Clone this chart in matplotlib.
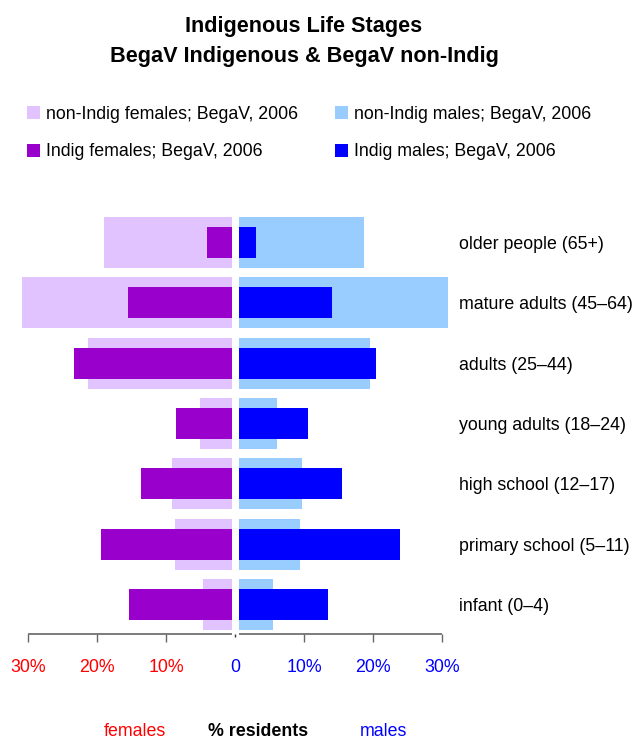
import matplotlib
matplotlib.use("Agg")
import matplotlib.pyplot as plt
import numpy as np

plt.rcParams['font.family'] = ['Liberation Sans', 'DejaVu Sans']

# age groups, top to bottom
etapas = ['older people (65+)', 'mature adults (45–64)', 'adults (25–44)',
          'young adults (18–24)', 'high school (12–17)', 'primary school (5–11)',
          'infant (0–4)']

# % residents
nonindig_mujeres = [19.0, 30.9, 21.3, 5.1, 9.2, 8.7, 4.7]
indig_mujeres = [4.1, 15.55, 23.4, 8.6, 13.7, 19.5, 15.4]
nonindig_hombres = [18.65, 30.8, 19.5, 6.0, 9.7, 9.4, 5.5]
indig_hombres = [3.0, 14.0, 20.4, 10.5, 15.5, 23.9, 13.4]

ticks = [-30, -20, -10, 0, 10, 20, 30]
tick_labels = ['30%', '20%', '10%', '0', '10%', '20%', '30%']

c_nf = '#E1C4FF'
c_if = '#9900CC'
c_nm = '#99CCFF'
c_im = '#0000FF'

gap = 0.5
fs = 12.75

fig = plt.figure(figsize=(6.33, 7.40), dpi=100)
ax = fig.add_axes([21.4 / 633, 106.5 / 740, 427.8 / 633, 421.2 / 740])

y = np.arange(len(etapas))[::-1]
nf = np.array(nonindig_mujeres)
inf_ = np.array(indig_mujeres)
nm = np.array(nonindig_hombres)
im = np.array(indig_hombres)

ancho = 0.845
angosto = 0.514
ax.barh(y, -(nf - gap), left=-gap, height=ancho, color=c_nf, label='non-Indig females; BegaV, 2006')
ax.barh(y, nm - gap, left=gap, height=ancho, color=c_nm, label='non-Indig males; BegaV, 2006')
ax.barh(y, -(inf_ - gap), left=-gap, height=angosto, color=c_if, label='Indig females; BegaV, 2006')
ax.barh(y, im - gap, left=gap, height=angosto, color=c_im, label='Indig males; BegaV, 2006')

ax.set_xlim(-31, 31)
ax.set_ylim(-0.48, 6.5)

for s in ['top', 'left', 'right', 'bottom']:
    ax.spines[s].set_visible(False)

# axis line with a break in the middle
ax.hlines([-0.48, -0.48], [-30, gap], [-gap, 30], color='#666666', lw=1.2, clip_on=False)

ax.set_xticks([t for t in ticks if t != 0])
ax.set_xticklabels([l for t, l in zip(ticks, tick_labels) if t != 0])
ax.set_xticks([0], minor=True)
ax.set_xticklabels(['0'], minor=True)
ax.tick_params(axis='x', which='major', length=5.5, width=1, color='#666666',
               labelsize=fs, pad=13)
ax.tick_params(axis='x', which='minor', length=2.5, width=1, color='#333333',
               labelsize=fs, pad=16)
for t, lab in zip([t for t in ticks if t != 0], ax.get_xticklabels()):
    lab.set_color('#FF0000' if t < 0 else '#0000FF')
for lab in ax.get_xticklabels(minor=True):
    lab.set_color('#0000FF')

ax.yaxis.tick_right()
ax.set_yticks(y)
ax.set_yticklabels(etapas)
ax.tick_params(axis='y', length=0, pad=7, labelsize=fs)
for lab in ax.get_yticklabels():
    lab.set_horizontalalignment('left')

# title
fig.text(0.479, 1 - 32.3 / 740, 'Indigenous Life Stages', ha='center', va='baseline',
         fontsize=15.6, fontweight='bold')
fig.text(0.481, 1 - 61.7 / 740, 'BegaV Indigenous & BegaV non-Indig', ha='center', va='baseline',
         fontsize=15.6, fontweight='bold')

# legend
handles, labels = ax.get_legend_handles_labels()
orden = [0, 2, 1, 3]
fig.legend([handles[i] for i in orden], [labels[i] for i in orden], ncol=2,
           loc='upper left', bbox_to_anchor=(27 / 633, 1 - 106 / 740),
           frameon=False, fontsize=fs, handlelength=0.74, handleheight=0.74,
           handletextpad=0.36, columnspacing=2.05, labelspacing=1.15,
           borderpad=0, borderaxespad=0)

# bottom labels
fig.text(135 / 633, 1 - 731 / 740, 'females', color='#FF0000', ha='center', va='center', fontsize=fs)
fig.text(258 / 633, 1 - 731 / 740, '% residents', color='black', ha='center', va='center',
         fontsize=fs, fontweight='bold')
fig.text(383 / 633, 1 - 731 / 740, 'males', color='#0000FF', ha='center', va='center', fontsize=fs)

fig.savefig('out.png', dpi=100)
